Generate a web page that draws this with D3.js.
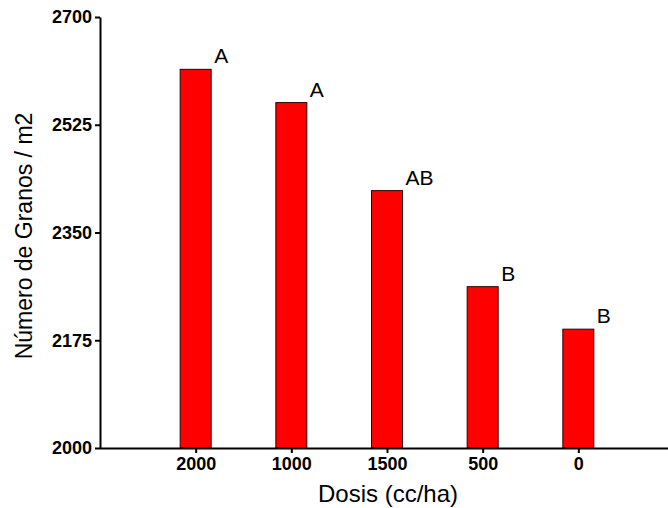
<!DOCTYPE html>
<html>
<head>
<meta charset="utf-8">
<script src="https://cdn.jsdelivr.net/npm/d3@7/dist/d3.min.js"></script>
<style>
  html, body { margin: 0; padding: 0; background: #fff; }
  svg { display: block; }
  text { font-family: Arial, "Liberation Sans", sans-serif; fill: #000; }
</style>
</head>
<body>
<svg id="chart" width="668" height="508"></svg>
<script>
// Dose categories (cc/ha), grain counts and significance letters
const doses = ["2000", "1000", "1500", "500", "0"];
const granos = [2615, 2561, 2418, 2262, 2193];
const letras = ["A", "A", "AB", "B", "B"];
const yTicks = [2000, 2175, 2350, 2525, 2700];

const svg = d3.select("#chart");
const plotLeft = 100, plotRight = 668, plotTop = 17, plotBottom = 448;

const x = d3.scalePoint().domain(doses).range([plotLeft, 674]).padding(1);
const y = d3.scaleLinear().domain([2000, 2700]).range([plotBottom, plotTop]);
const barW = 31;

const data = doses.map((d, i) => ({ dose: d, value: granos[i], letter: letras[i] }));

// Bars
svg.append("g").selectAll("rect").data(data).join("rect")
  .attr("x", d => x(d.dose) - barW / 2)
  .attr("y", d => y(d.value))
  .attr("width", barW)
  .attr("height", d => y(2000) - y(d.value))
  .attr("fill", "#ff0000")
  .attr("stroke", "#2a0000")
  .attr("stroke-width", 1);

// Significance letters
svg.append("g").selectAll("text").data(data).join("text")
  .attr("x", d => x(d.dose) + barW / 2 + 3)
  .attr("y", d => y(d.value) - 6)
  .attr("font-size", 21)
  .text(d => d.letter);

const tickFont = "Arial, 'Liberation Sans', sans-serif";

// Y axis
const yAxis = svg.append("g")
  .attr("transform", `translate(${plotLeft},0)`)
  .call(d3.axisLeft(y).tickValues(yTicks).tickFormat(d3.format("d"))
    .tickSize(5).tickPadding(3).tickSizeOuter(0));
yAxis.select(".domain").attr("stroke-width", 2);
yAxis.selectAll(".tick line").attr("stroke-width", 2);
yAxis.selectAll(".tick text").attr("font-size", 18).attr("font-weight", "bold")
  .attr("font-family", tickFont);

// X axis
const xAxis = svg.append("g")
  .attr("transform", `translate(0,${plotBottom})`)
  .call(d3.axisBottom(x).tickSize(5).tickPadding(4).tickSizeOuter(0));
xAxis.select(".domain").attr("d", `M${plotLeft},0.5H${plotRight}`).attr("stroke-width", 2);
xAxis.selectAll(".tick line").attr("stroke-width", 2);
xAxis.selectAll(".tick text").attr("font-size", 18).attr("font-weight", "bold")
  .attr("font-family", tickFont);

// Axis titles
svg.append("text")
  .attr("x", 388).attr("y", 502)
  .attr("text-anchor", "middle")
  .attr("font-size", 24)
  .text("Dosis (cc/ha)");

svg.append("text")
  .attr("transform", "translate(32,236) rotate(-90)")
  .attr("text-anchor", "middle")
  .attr("font-size", 23)
  .text("Número de Granos / m2");
</script>
</body>
</html>
